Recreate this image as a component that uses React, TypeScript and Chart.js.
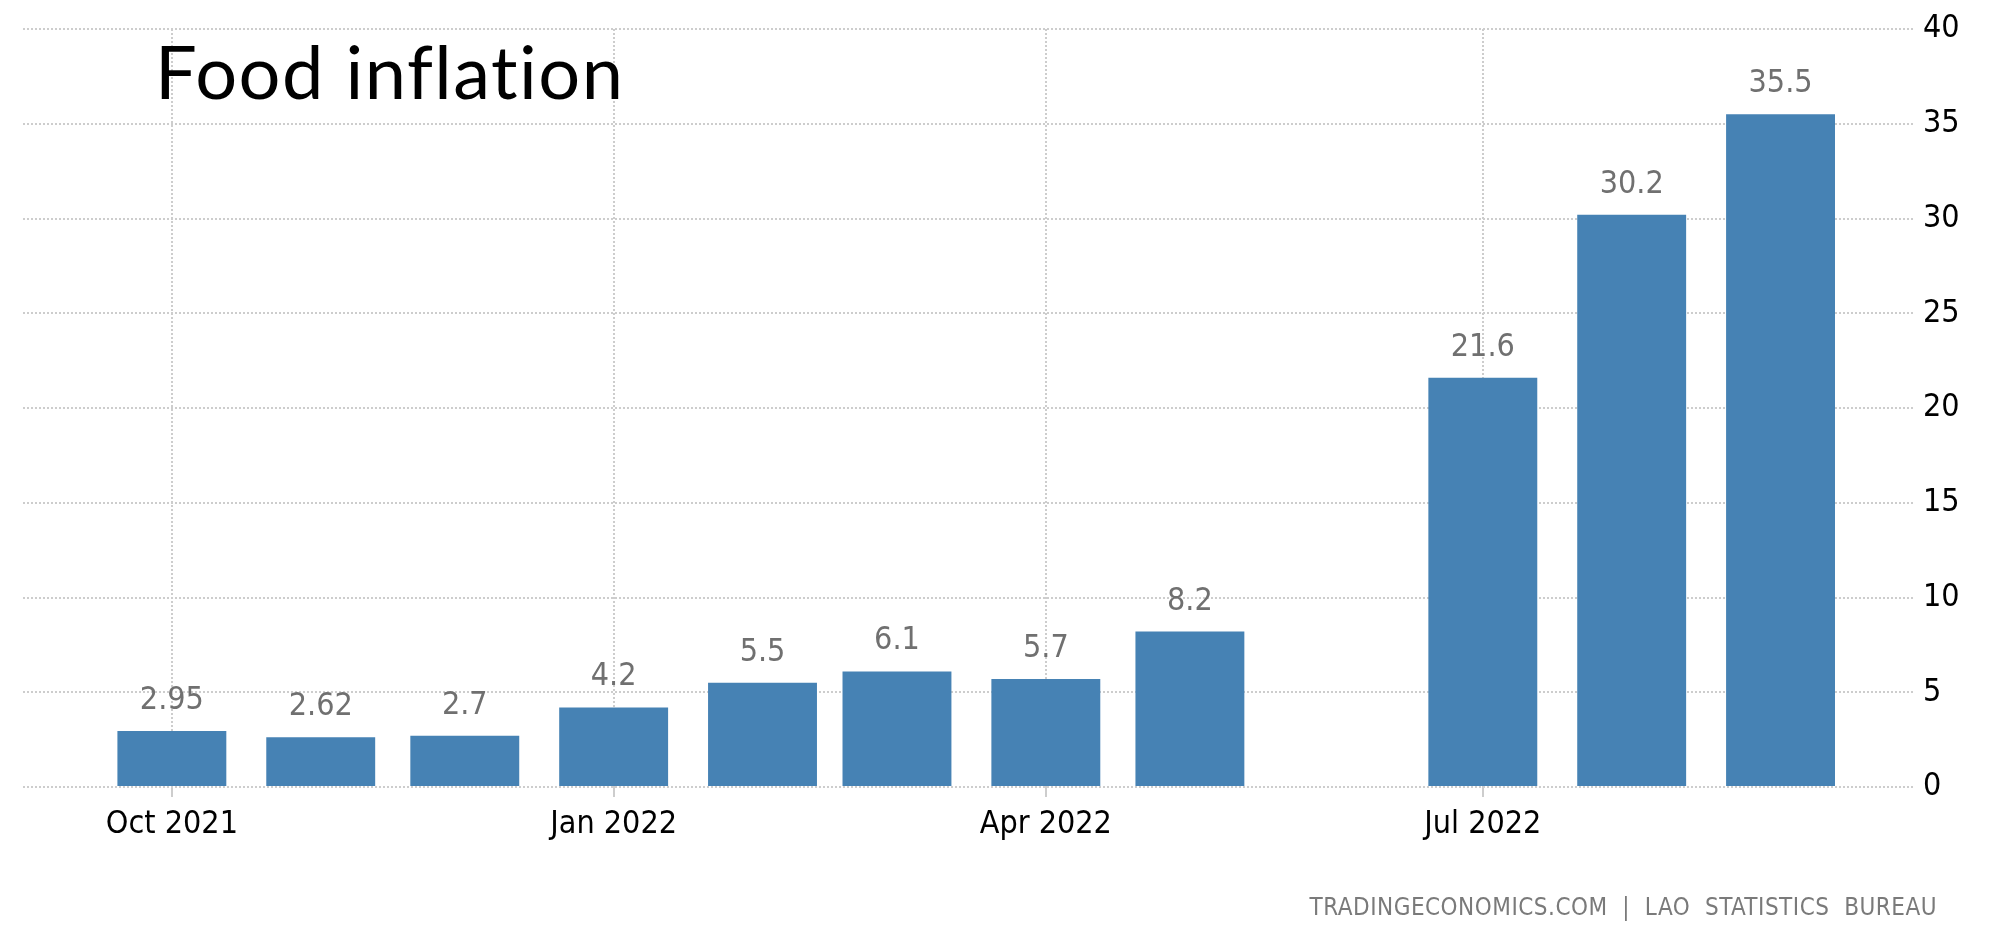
import React, { useEffect, useRef } from "react";
import { Chart, registerables } from "chart.js";

Chart.register(...registerables);

// ---- data ----
const months = [
  "2021-10-01", "2021-11-01", "2021-12-01", "2022-01-01", "2022-02-01", "2022-03-01",
  "2022-04-01", "2022-05-01", "2022-06-01", "2022-07-01", "2022-08-01", "2022-09-01",
];
const foodInflation: (number | null)[] = [2.95, 2.62, 2.7, 4.2, 5.5, 6.1, 5.7, 8.2, null, 21.6, 30.2, 35.5];
const tickDates = ["2021-10-01", "2022-01-01", "2022-04-01", "2022-07-01"];
const tickLabels = ["Oct 2021", "Jan 2022", "Apr 2022", "Jul 2022"];
const axisStart = "2021-08-31";
const axisEnd = "2022-09-29";
const yMin = 0;
const yMax = 40;
const yStep = 5;
const titleText = "Food inflation";
const creditText = "TRADINGECONOMICS.COM  |  LAO  STATISTICS  BUREAU";

// ---- helpers ----
const ORIGIN = Date.parse("2021-10-01T00:00:00Z");
const dayOf = (s: string) => Math.round((Date.parse(s + "T00:00:00Z") - ORIGIN) / 86400000);

const W = 1998;
const H = 930;
const NARROW = "'DejaVu Sans Condensed', 'Liberation Sans Narrow', sans-serif";
const GRID = "#cdcdcd";

const overlayPlugin = {
  id: "overlayText",
  afterDatasetsDraw(chart: any) {
    const ctx = chart.ctx;
    const meta = chart.getDatasetMeta(0);
    ctx.save();
    ctx.font = `32px ${NARROW}`;
    ctx.fillStyle = "#707070";
    ctx.textAlign = "center";
    ctx.textBaseline = "alphabetic";
    meta.data.forEach((bar: any, i: number) => {
      const v = foodInflation[i];
      if (v == null) return;
      ctx.fillText(String(v), bar.x, bar.y - 22);
    });
    ctx.restore();
  },
  afterDraw(chart: any) {
    const ctx = chart.ctx;
    ctx.save();
    try {
      (ctx as any).textRendering = "optimizeSpeed";
      (ctx as any).letterSpacing = "1.5px";
    } catch (e) {}
    ctx.font = "74px Lato, 'Open Sans', sans-serif";
    ctx.fillStyle = "#000";
    ctx.textAlign = "left";
    ctx.textBaseline = "alphabetic";
    ctx.fillText(titleText, 155, 99);
    try {
      (ctx as any).letterSpacing = "0.5px";
    } catch (e) {}
    ctx.font = `24px ${NARROW}`;
    ctx.fillStyle = "#7a7a7a";
    ctx.textAlign = "right";
    ctx.fillText(creditText, 1937, 915);
    ctx.restore();
  },
};

export default function App() {
  const ref = useRef<HTMLCanvasElement | null>(null);

  useEffect(() => {
    if (!ref.current) return;
    const points = months.map((m, i) => ({ x: dayOf(m), y: foodInflation[i] }));
    const tickDays = tickDates.map(dayOf);
    const chart = new Chart(ref.current, {
      type: "bar",
      data: {
        datasets: [
          {
            data: points as any,
            backgroundColor: "#4682B4",
            borderWidth: 0,
            categoryPercentage: 1,
            barPercentage: 0.81,
          },
        ],
      },
      options: {
        animation: false,
        responsive: false,
        events: [],
        layout: { padding: { top: 29, left: 23, right: 0, bottom: 0 } },
        plugins: {
          legend: { display: false },
          tooltip: { enabled: false },
        },
        scales: {
          x: {
            type: "linear",
            min: dayOf(axisStart),
            max: dayOf(axisEnd),
            offset: false,
            afterBuildTicks: (s: any) => {
              s.ticks = tickDays.map((v) => ({ value: v }));
            },
            afterFit: (s: any) => {
              s.height = H - 787;
            },
            ticks: {
              autoSkip: false,
              maxRotation: 0,
              minRotation: 0,
              padding: 8,
              color: "#000",
              font: { family: NARROW, size: 32 },
              callback: (v: any) => {
                const idx = tickDays.indexOf(Number(v));
                return idx >= 0 ? tickLabels[idx] : "";
              },
            },
            grid: {
              offset: false,
              color: GRID,
              lineWidth: 2,
              tickLength: 10,
              drawOnChartArea: true,
            },
            border: { display: false, dash: [2, 2] },
          },
          y: {
            position: "right",
            min: yMin,
            max: yMax,
            afterFit: (s: any) => {
              s.width = W - 1915;
            },
            ticks: {
              stepSize: yStep,
              padding: 8,
              color: "#000",
              font: { family: NARROW, size: 32 },
            },
            grid: {
              color: GRID,
              lineWidth: 2,
              drawTicks: false,
            },
            border: { display: false, dash: [2, 2] },
          },
        },
      } as any,
      plugins: [overlayPlugin],
    });
    return () => chart.destroy();
  }, []);

  return (
    <div style={{ position: "fixed", left: 0, top: 0, width: W, height: H, background: "#fff" }}>
      <canvas ref={ref} width={W} height={H} style={{ display: "block" }} />
    </div>
  );
}
